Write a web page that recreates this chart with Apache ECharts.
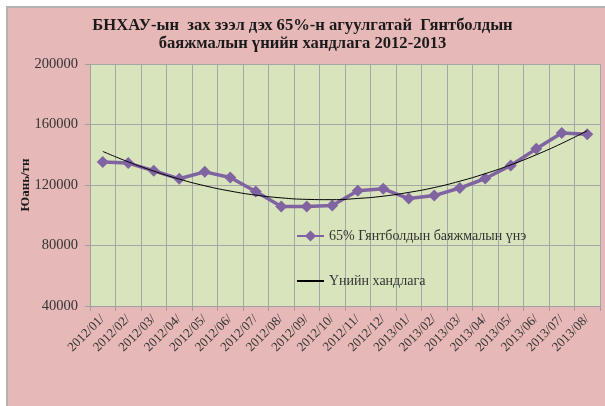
<!DOCTYPE html>
<html>
<head>
<meta charset="utf-8">
<script src="https://cdn.jsdelivr.net/npm/echarts@6/dist/echarts.min.js"></script>
<style>
html,body{margin:0;padding:0;width:605px;height:406px;overflow:hidden;background:#fff;}
#frame{position:absolute;left:6px;top:6px;width:640px;height:440px;background:#e6b8b7;border-left:2px solid #b2b2b2;border-top:2px solid #b2b2b2;}
#chart{position:absolute;left:0;top:0;width:605px;height:406px;}
</style>
</head>
<body>
<div id="frame"></div>
<div id="chart"></div>
<script>
const categories = ['2012/01/','2012/02/','2012/03/','2012/04/','2012/05/','2012/06/','2012/07/','2012/08/','2012/09/','2012/10/','2012/11/','2012/12/','2013/01/','2013/02/','2013/03/','2013/04/','2013/05/','2013/06/','2013/07/','2013/08/'];
const priceValues = [135200,134500,129400,124100,128700,125000,115700,105800,105800,106400,116200,117500,111000,113000,118000,124300,132900,143900,154400,153600];
const trendValues = [142200,135300,129200,123900,119500,116000,113300,111500,110500,110300,111100,112600,115100,118300,122500,127500,133300,140000,147500,155900];
const yTicks = [40000,80000,120000,160000,200000];
const seriesNames = ['65% Гянтболдын баяжмалын үнэ','Үнийн хандлага'];
const titleText = 'БНХАУ-ын  зах зээл дэх 65%-н агуулгатай  Гянтболдын\nбаяжмалын үнийн хандлага 2012-2013';
const yName = 'Юань/тн';

const serif = '"Liberation Serif", "DejaVu Serif", serif';
const chart = echarts.init(document.getElementById('chart'), null, {renderer:'canvas'});
chart.setOption({
  backgroundColor: 'transparent',
  animation: false,
  title: {
    text: titleText,
    left: 'center',
    top: 12,
    padding: [5, 0, 5, 6],
    textStyle: {fontFamily: serif, fontSize: 16.6, fontWeight: 'bold', color: '#1a1a1a', lineHeight: 18}
  },
  grid: {left: 90, right: 5, top: 64, bottom: 100, show: true, backgroundColor: '#d8e4bc', borderWidth: 0, outerBoundsMode: 'none'},
  legend: {
    orient: 'vertical',
    left: 291,
    top: 224,
    itemGap: 31,
    itemWidth: 27,
    itemHeight: 14,
    textStyle: {fontFamily: serif, fontSize: 14, color: '#333'},
    data: [seriesNames[0], {name: seriesNames[1], itemStyle: {opacity: 0}}]
  },
  xAxis: {
    type: 'category',
    data: categories,
    boundaryGap: true,
    axisLine: {lineStyle: {color: '#a0a0a0', width: 1}},
    axisTick: {show: true, interval: 0, length: 5, lineStyle: {color: '#a0a0a0'}},
    splitLine: {show: true, interval: 0, lineStyle: {color: '#a6a6a6', width: 1}},
    axisLabel: {interval: 0, rotate: 45, margin: 11, fontFamily: serif, fontSize: 13, color: '#333'}
  },
  yAxis: {
    type: 'value',
    min: yTicks[0],
    max: yTicks[yTicks.length - 1],
    interval: yTicks[1] - yTicks[0],
    name: yName,
    nameLocation: 'middle',
    nameRotate: 90,
    nameGap: 58,
    nameMoveOverlap: false,
    nameTextStyle: {fontFamily: serif, fontSize: 13, fontWeight: 'bold', color: '#1a1a1a'},
    axisLine: {show: true, lineStyle: {color: '#a0a0a0', width: 1}},
    axisTick: {show: true, length: 5, lineStyle: {color: '#a0a0a0'}},
    splitLine: {show: true, lineStyle: {color: '#a6a6a6', width: 1}},
    axisLabel: {margin: 12, fontFamily: serif, fontSize: 14.5, color: '#333', formatter: function (v) { return String(v); }}
  },
  series: [
    {
      name: seriesNames[0],
      type: 'line',
      data: priceValues,
      symbol: 'diamond',
      symbolSize: 12,
      lineStyle: {color: '#8064a2', width: 3.5},
      itemStyle: {color: '#8064a2'},
      z: 3
    },
    {
      name: seriesNames[1],
      type: 'line',
      data: trendValues,
      smooth: true,
      symbol: 'none',
      lineStyle: {color: '#000', width: 1},
      itemStyle: {color: '#000'},
      z: 4
    }
  ]
});
</script>
</body>
</html>
